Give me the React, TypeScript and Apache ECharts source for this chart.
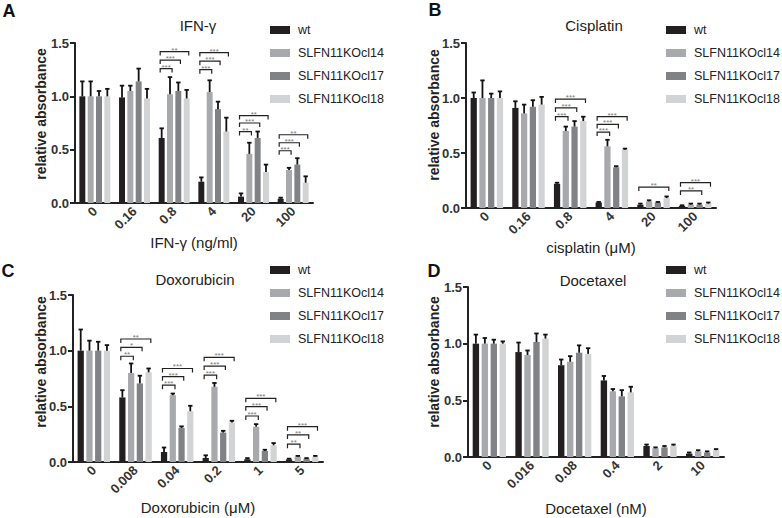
import React, { useEffect, useRef } from "react";
import * as echarts from "echarts";

const seriesNames = ["wt", "SLFN11KOcl14", "SLFN11KOcl17", "SLFN11KOcl18"];
const seriesColors = ["#231f20", "#a7a9ac", "#808285", "#d1d3d4"];
const yTicks = [0, 0.5, 1.0, 1.5];

// Panel A: IFN-γ
const catsA = ["0", "0.16", "0.8", "4", "20", "100"];
const wtA = [1.0, 0.99, 0.61, 0.2, 0.06, 0.04];
const cl14A = [1.0, 1.05, 1.02, 1.04, 0.46, 0.31];
const cl17A = [1.0, 1.14, 1.05, 0.88, 0.61, 0.36];
const cl18A = [1.0, 0.98, 0.98, 0.67, 0.29, 0.19];
const wtErrA = [1.14, 1.1, 0.7, 0.24, 0.09, 0.05];
const cl14ErrA = [1.14, 1.1, 1.18, 1.15, 0.565, 0.33];
const cl17ErrA = [1.05, 1.26, 1.13, 0.95, 0.67, 0.42];
const cl18ErrA = [1.07, 1.07, 1.06, 0.8, 0.36, 0.25];
// [category index, compared series index, bracket level, stars]
const bracketsA: [number, number, number, string][] = [
  [2, 1, 1.26, "***"], [2, 2, 1.34, "***"], [2, 3, 1.42, "**"],
  [3, 1, 1.25, "***"], [3, 2, 1.33, "***"], [3, 3, 1.41, "***"],
  [4, 1, 0.67, "**"], [4, 2, 0.75, "***"], [4, 3, 0.82, "**"],
  [5, 1, 0.49, "***"], [5, 2, 0.565, "***"], [5, 3, 0.64, "**"],
];

// Panel B: Cisplatin
const catsB = ["0", "0.16", "0.8", "4", "20", "100"];
const wtB = [1.0, 0.91, 0.22, 0.05, 0.03, 0.02];
const cl14B = [1.0, 0.86, 0.7, 0.56, 0.06, 0.03];
const cl17B = [1.0, 0.92, 0.74, 0.37, 0.05, 0.03];
const cl18B = [1.0, 0.94, 0.79, 0.53, 0.09, 0.04];
const wtErrB = [1.05, 0.97, 0.23, 0.055, 0.04, 0.025];
const cl14ErrB = [1.16, 0.94, 0.74, 0.62, 0.07, 0.04];
const cl17ErrB = [1.04, 0.98, 0.79, 0.38, 0.055, 0.04];
const cl18ErrB = [1.06, 1.01, 0.83, 0.54, 0.105, 0.05];
const bracketsB: [number, number, number, string][] = [
  [2, 1, 0.83, "***"], [2, 2, 0.91, "***"], [2, 3, 0.99, "***"],
  [3, 1, 0.69, "***"], [3, 2, 0.76, "***"], [3, 3, 0.83, "***"],
  [4, 3, 0.19, "**"],
  [5, 2, 0.155, "**"], [5, 3, 0.23, "***"],
];

// Panel C: Doxorubicin
const catsC = ["0", "0.008", "0.04", "0.2", "1", "5"];
const wtC = [1.0, 0.58, 0.09, 0.036, 0.025, 0.024];
const cl14C = [1.0, 0.8, 0.6, 0.675, 0.317, 0.048];
const cl17C = [1.0, 0.706, 0.306, 0.264, 0.099, 0.03];
const cl18C = [1.0, 0.805, 0.456, 0.354, 0.15, 0.048];
const wtErrC = [1.19, 0.645, 0.13, 0.06, 0.035, 0.03];
const cl14ErrC = [1.09, 0.885, 0.615, 0.71, 0.34, 0.055];
const cl17ErrC = [1.08, 0.775, 0.32, 0.28, 0.11, 0.035];
const cl18ErrC = [1.05, 0.84, 0.505, 0.37, 0.17, 0.055];
const bracketsC: [number, number, number, string][] = [
  [1, 1, 0.95, "**"], [1, 2, 1.03, "*"], [1, 3, 1.105, "**"],
  [2, 1, 0.69, "***"], [2, 2, 0.766, "***"], [2, 3, 0.84, "***"],
  [3, 1, 0.78, "***"], [3, 2, 0.862, "***"], [3, 3, 0.94, "***"],
  [4, 1, 0.413, "***"], [4, 2, 0.497, "***"], [4, 3, 0.572, "***"],
  [5, 1, 0.16, "**"], [5, 2, 0.243, "**"], [5, 3, 0.317, "***"],
];

// Panel D: Docetaxel
const catsD = ["0", "0.016", "0.08", "0.4", "2", "10"];
const wtD = [1.0, 0.926, 0.81, 0.676, 0.097, 0.03];
const cl14D = [1.0, 0.9, 0.84, 0.58, 0.077, 0.05];
const cl17D = [1.0, 1.015, 0.92, 0.535, 0.085, 0.04];
const cl18D = [1.0, 1.045, 0.91, 0.57, 0.1, 0.06];
const wtErrD = [1.08, 1.01, 0.86, 0.715, 0.11, 0.04];
const cl14ErrD = [1.05, 0.94, 0.89, 0.6, 0.085, 0.06];
const cl17ErrD = [1.035, 1.09, 0.985, 0.59, 0.097, 0.05];
const cl18ErrD = [1.02, 1.08, 0.96, 0.62, 0.11, 0.07];
const bracketsD: [number, number, number, string][] = [];

const FONT = "'Liberation Sans', Arial, Helvetica, sans-serif";
const BAR_W = 0.15;
const BAR_GAP = 0.4;

const panels = [
  {
    letter: "A", title: "IFN-γ", xName: "IFN-γ (ng/ml)", cats: catsA,
    means: [wtA, cl14A, cl17A, cl18A], errs: [wtErrA, cl14ErrA, cl17ErrA, cl18ErrA], brackets: bracketsA,
    grid: { left: 75, top: 43, width: 238, height: 160 }, nameGap: 28,
    letterPos: [9, 11], titlePos: [198, 25], yNamePos: [41, 114], legendPos: [270, 23],
  },
  {
    letter: "B", title: "Cisplatin", xName: "cisplatin (μM)", cats: catsB,
    means: [wtB, cl14B, cl17B, cl18B], errs: [wtErrB, cl14ErrB, cl17ErrB, cl18ErrB], brackets: bracketsB,
    grid: { left: 466, top: 43, width: 250, height: 165 }, nameGap: 23,
    letterPos: [435, 10], titlePos: [594, 25], yNamePos: [434, 115], legendPos: [666, 23],
  },
  {
    letter: "C", title: "Doxorubicin", xName: "Doxorubicin (μM)", cats: catsC,
    means: [wtC, cl14C, cl17C, cl18C], errs: [wtErrC, cl14ErrC, cl17ErrC, cl18ErrC], brackets: bracketsC,
    grid: { left: 73, top: 295, width: 250, height: 167 }, nameGap: 38,
    letterPos: [8, 271], titlePos: [195, 279], yNamePos: [41, 362], legendPos: [270, 263],
  },
  {
    letter: "D", title: "Docetaxel", xName: "Docetaxel (nM)", cats: catsD,
    means: [wtD, cl14D, cl17D, cl18D], errs: [wtErrD, cl14ErrD, cl17ErrD, cl18ErrD], brackets: bracketsD,
    grid: { left: 468, top: 287, width: 256, height: 170 }, nameGap: 44,
    letterPos: [434, 271], titlePos: [593, 280], yNamePos: [434, 362], legendPos: [666, 263],
  },
];

function barX(center: number, band: number, s: number) {
  const w = band * BAR_W;
  const gap = w * BAR_GAP;
  const total = 4 * w + 3 * gap;
  return { x: center - total / 2 + s * (w + gap) + w / 2, w };
}

export default function App() {
  const ref = useRef<HTMLDivElement>(null);
  useEffect(() => {
    if (!ref.current) return;
    const chart = echarts.init(ref.current, undefined, { renderer: "svg" });
    const series: any[] = [];
    const graphic: any[] = [];
    panels.forEach((p, i) => {
      for (let s = 0; s < 4; s++) {
        series.push({
          type: "bar", name: seriesNames[s], xAxisIndex: i, yAxisIndex: i,
          data: p.means[s], barWidth: BAR_W * 100 + "%", barGap: BAR_GAP * 100 + "%",
          itemStyle: { color: seriesColors[s] }, z: 2,
        });
      }
      const errData: number[][] = [];
      for (let s = 0; s < 4; s++) {
        p.cats.forEach((_, c) => errData.push([c, p.means[s][c], p.errs[s][c], s]));
      }
      series.push({
        type: "custom", xAxisIndex: i, yAxisIndex: i, z: 4, silent: true,
        encode: { x: 0, y: 1 }, data: errData,
        renderItem: (params: any, api: any) => {
          const c = api.value(0), m = api.value(1), t = api.value(2), s = api.value(3);
          const base = api.coord([c, m]);
          const top = api.coord([c, t]);
          const band = api.size([1, 0])[0];
          const { x } = barX(base[0], band, s);
          const cap = 2.2;
          return {
            type: "group",
            children: [
              { type: "line", shape: { x1: x, y1: base[1], x2: x, y2: top[1] }, style: { stroke: "#111", lineWidth: 1.8 } },
              { type: "line", shape: { x1: x - cap, y1: top[1], x2: x + cap, y2: top[1] }, style: { stroke: "#111", lineWidth: 1.8 } },
            ],
          };
        },
      });
      if (p.brackets.length) {
        const br = p.brackets;
        series.push({
          type: "custom", xAxisIndex: i, yAxisIndex: i, z: 5, silent: true,
          encode: { x: 0, y: 1 }, data: br.map((b) => [b[0], b[2], b[1]]),
          renderItem: (params: any, api: any) => {
            const c = api.value(0), lvl = api.value(1), to = api.value(2);
            const pt = api.coord([c, lvl]);
            const band = api.size([1, 0])[0];
            const a = barX(pt[0], band, 0);
            const b = barX(pt[0], band, to);
            const x0 = a.x - a.w * 0.25;
            const x1 = b.x + b.w * 0.35;
            const y = pt[1];
            const tick = 4;
            return {
              type: "group",
              children: [
                { type: "polyline", shape: { points: [[x0, y + tick], [x0, y], [x1, y], [x1, y + tick]] }, style: { stroke: "#222", lineWidth: 1.2, fill: null } },
                { type: "text", x: (x0 + x1) / 2, y: y - 1.5, style: { text: br[params.dataIndex][3], align: "center", verticalAlign: "middle", fontSize: 8, lineHeight: 7, fill: "#7a7a7a", fontFamily: FONT } },
              ],
            };
          },
        });
      }
      graphic.push(
        { type: "text", x: p.letterPos[0], y: p.letterPos[1], style: { text: p.letter, align: "center", verticalAlign: "middle", fontSize: 18, fontWeight: "bold", fill: "#111", fontFamily: FONT } },
        { type: "text", x: p.titlePos[0], y: p.titlePos[1], style: { text: p.title, align: "center", verticalAlign: "middle", fontSize: 15, fill: "#222", fontFamily: FONT } },
        { type: "text", x: p.yNamePos[0], y: p.yNamePos[1], rotation: Math.PI / 2, style: { text: "relative absorbance", align: "center", verticalAlign: "middle", fontSize: 14, fontWeight: "bold", fill: "#222", fontFamily: FONT } },
      );
    });

    const option: any = {
      animation: false,
      backgroundColor: "#ffffff",
      textStyle: { fontFamily: FONT },
      grid: panels.map((p) => ({ ...p.grid, containLabel: false })),
      xAxis: panels.map((p, i) => ({
        type: "category", gridIndex: i, data: p.cats,
        name: p.xName, nameLocation: "middle", nameGap: p.nameGap,
        nameTextStyle: { fontSize: 15, color: "#222", fontFamily: FONT },
        axisLine: { lineStyle: { color: "#222", width: 2 } },
        axisTick: { alignWithLabel: true, length: 5, lineStyle: { color: "#222", width: 2 } },
        axisLabel: { rotate: 45, fontSize: 13, fontWeight: "bold", color: "#333", margin: 6, fontFamily: FONT },
        splitLine: { show: false },
      })),
      yAxis: panels.map((p, i) => ({
        type: "value", gridIndex: i, min: yTicks[0], max: yTicks[yTicks.length - 1], interval: 0.5,
        axisLine: { show: true, lineStyle: { color: "#222", width: 2 } },
        axisTick: { show: true, length: 5, lineStyle: { color: "#222", width: 2 } },
        axisLabel: { fontSize: 13, fontWeight: "bold", color: "#333", margin: 6, fontFamily: FONT, formatter: (v: number) => v.toFixed(1) },
        splitLine: { show: false },
      })),
      legend: panels.map((p) => ({
        left: p.legendPos[0], top: p.legendPos[1], orient: "vertical", padding: 0,
        icon: "rect", itemWidth: 20, itemHeight: 8, itemGap: 9,
        data: seriesNames, selectedMode: false,
        textStyle: { fontSize: 12.5, color: "#222", lineHeight: 14, fontFamily: FONT, padding: [0, 0, 0, 3] },
      })),
      series,
      graphic,
    };
    chart.setOption(option);
    return () => chart.dispose();
  }, []);
  return (
    <div
      ref={ref}
      style={{ position: "fixed", left: 0, top: 0, width: 782, height: 518, background: "#fff" }}
    />
  );
}
